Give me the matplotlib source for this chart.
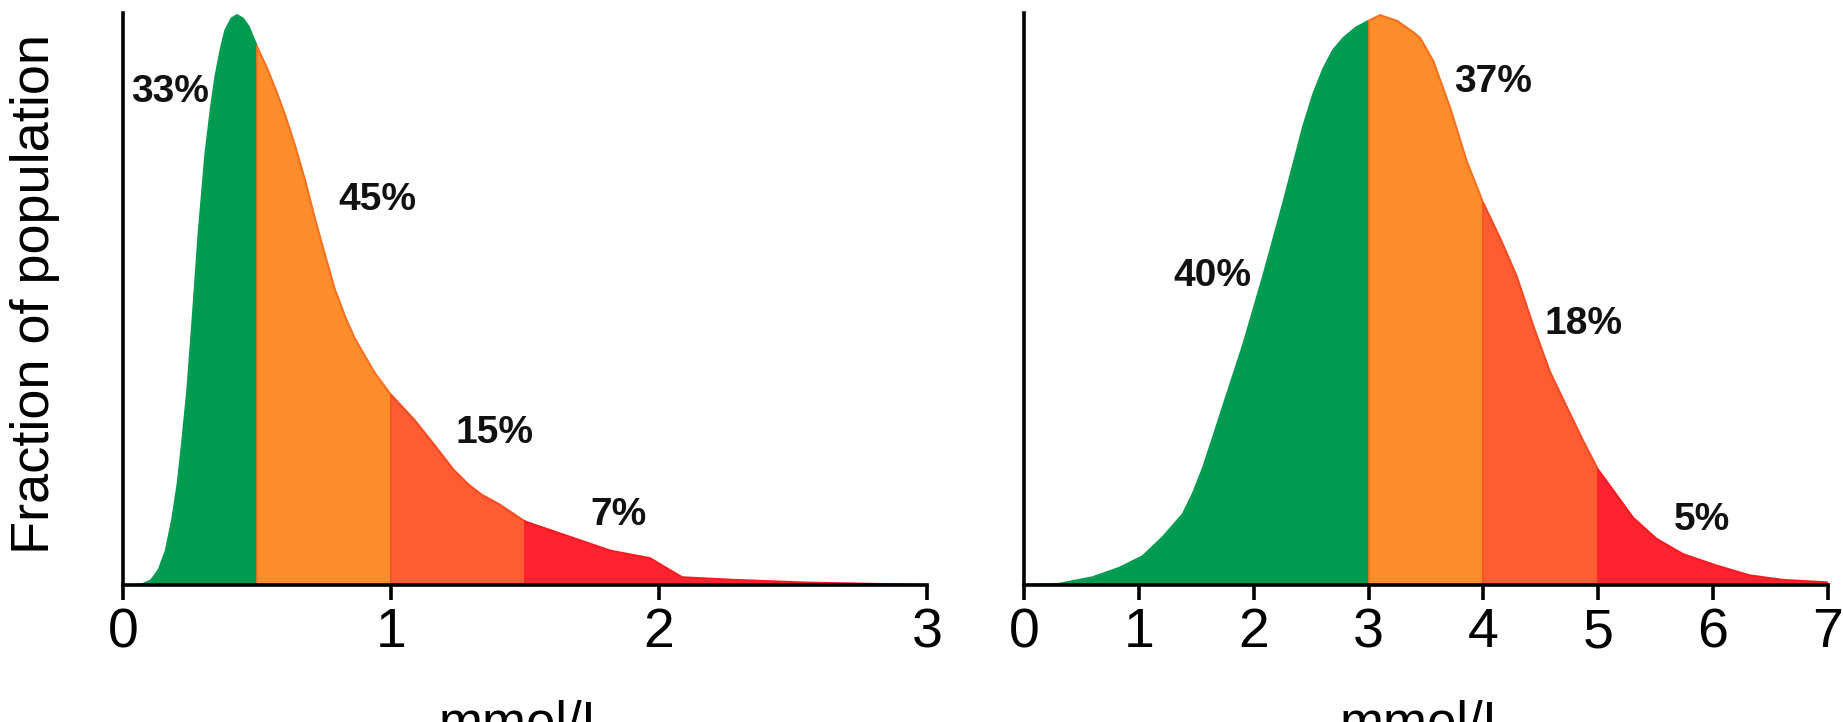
import numpy as np
import matplotlib
matplotlib.use("Agg")
import matplotlib.pyplot as plt

plt.rcParams['font.family'] = ['Liberation Sans', 'DejaVu Sans']

# left panel: distribution, x in mmol/L, y relative height
left_x = [0.0, 0.04, 0.072, 0.105, 0.134, 0.16, 0.184, 0.205, 0.221, 0.24,
          0.258, 0.283, 0.308, 0.328, 0.345, 0.365, 0.382, 0.405, 0.4255, 0.448,
          0.469, 0.5, 0.535, 0.568, 0.605, 0.643, 0.68, 0.717, 0.755, 0.79,
          0.83, 0.866, 0.94, 1.0, 1.087, 1.166, 1.233, 1.29, 1.34, 1.406,
          1.5, 1.646, 1.82, 1.967, 2.02, 2.087, 2.287, 2.553, 2.885, 3.0]
left_y = [0.0, 0.0, 0.001, 0.008, 0.027, 0.06, 0.115, 0.18, 0.25, 0.34,
          0.453, 0.62, 0.757, 0.835, 0.892, 0.94, 0.973, 0.994, 1.0, 0.994,
          0.98, 0.945, 0.91, 0.872, 0.825, 0.77, 0.71, 0.642, 0.578, 0.52,
          0.47, 0.432, 0.372, 0.334, 0.29, 0.2435, 0.2025, 0.176, 0.158, 0.141,
          0.1115, 0.088, 0.06, 0.047, 0.032, 0.0135, 0.0088, 0.0041, 0.0012, 0.0]
left_cuts = [0, 0.5, 1.0, 1.5, 3.0]
left_pct = ['33%', '45%', '15%', '7%']
left_lab_x = [0.177, 0.949, 1.387, 1.849]
left_lab_y = [0.865, 0.676, 0.267, 0.123]

# right panel
right_x = [0.0, 0.306, 0.597, 0.83, 1.034, 1.209, 1.384, 1.47, 1.558, 1.645,
           1.733, 1.908, 2.083, 2.257, 2.432, 2.52, 2.607, 2.69, 2.782, 2.89,
           3.0, 3.10, 3.248, 3.39, 3.45, 3.565, 3.71, 3.855, 4.0, 4.145,
           4.29, 4.435, 4.58, 4.725, 4.87, 5.0, 5.16, 5.304, 5.507, 5.74,
           6.03, 6.32, 6.61, 6.986, 7.0]
right_y = [0.0, 0.002, 0.0135, 0.030, 0.0505, 0.084, 0.1246, 0.16, 0.205, 0.258,
           0.313, 0.421, 0.542, 0.67, 0.805, 0.862, 0.906, 0.938, 0.96, 0.978,
           0.99, 1.0, 0.99, 0.97, 0.96, 0.919, 0.838, 0.744, 0.67, 0.609,
           0.542, 0.4545, 0.374, 0.313, 0.2525, 0.202, 0.158, 0.118, 0.081, 0.054,
           0.034, 0.0168, 0.0088, 0.0047, 0.0047]
right_cuts = [0, 3.0, 4.0, 5.0, 7.0]
right_pct = ['40%', '37%', '18%', '5%']
right_lab_x = [1.637, 4.087, 4.87, 5.9]
right_lab_y = [0.542, 0.882, 0.458, 0.1145]

fills = ['#009b4f', '#fd8d2b', '#fe5c32', '#fe2330']
edges = ['#009b4f', '#f8701e', '#f84a22', '#f81a20']

fig = plt.figure(figsize=(18.43, 7.22), dpi=100)
ax1 = fig.add_axes([0.0667, 0.1898, 0.4362, 0.792])
ax2 = fig.add_axes([0.5556, 0.1898, 0.4362, 0.792])


def draw(ax, xs, ys, cuts, pct, lx, ly, xmax):
    xs = np.array(xs)
    ys = np.array(ys)
    for i in range(len(cuts) - 1):
        m = (xs >= cuts[i]) & (xs <= cuts[i + 1])
        ax.fill_between(xs[m], 0, ys[m], color=fills[i], lw=0)
        ax.plot(xs[m], ys[m], color=edges[i], lw=1.5, solid_capstyle='butt')
        if i > 0:
            j = np.where(xs == cuts[i])[0][0]
            ax.plot([xs[j], xs[j]], [0, ys[j]], color=edges[i], lw=1.2)
    for t, x, y in zip(pct, lx, ly):
        ax.text(x, y, t, ha='center', va='center', fontsize=28,
                fontweight='bold', color='#111111')
    ax.set_xlim(0, xmax)
    ax.set_ylim(0, 1.0035)
    for s in ['top', 'right']:
        ax.spines[s].set_visible(False)
    for s in ['left', 'bottom']:
        ax.spines[s].set_linewidth(2.6)
    ax.set_xticks(range(0, xmax + 1))
    ax.set_yticks([])
    ax.tick_params(axis='x', length=11, width=2.6, labelsize=40, pad=5)
    ax.set_xlabel('mmol/L', fontsize=38)
    ax.xaxis.set_label_coords(0.5, -0.2)


draw(ax1, left_x, left_y, left_cuts, left_pct, left_lab_x, left_lab_y, 3)
draw(ax2, right_x, right_y, right_cuts, right_pct, right_lab_x, right_lab_y, 7)

fig.text(35 / 1843, 0.593, 'Fraction of population', rotation=90,
         ha='center', va='center', fontsize=39)

fig.savefig('out.png', dpi=100)
